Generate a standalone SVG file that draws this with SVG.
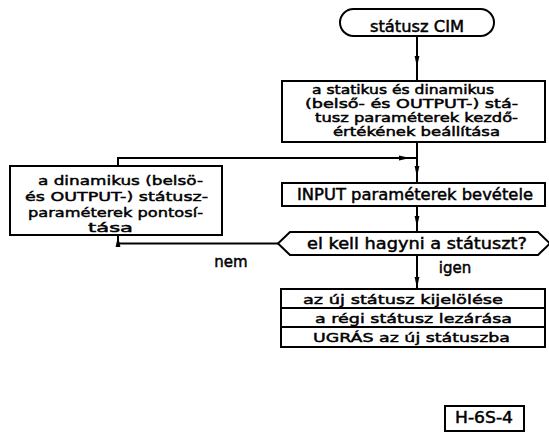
<svg xmlns="http://www.w3.org/2000/svg" width="549" height="435" viewBox="0 0 549 435">
<defs>
<marker id="ah" markerWidth="12" markerHeight="6" refX="11" refY="3" orient="auto" markerUnits="userSpaceOnUse">
<path d="M0,0.6 L11,3 L0,5.4 Z" fill="#000"/>
</marker>
<style>
.b{fill:#fff;stroke:#000;stroke-width:2}
.c{fill:none;stroke:#000;stroke-width:2}
text{font-family:"DejaVu Sans","Liberation Sans",sans-serif;font-size:15px;fill:#000;stroke:#000;stroke-width:0.45}
.s{font-size:12px}
.t{font-size:13px}
.m{text-anchor:middle}
</style>
</defs>
<rect width="549" height="435" fill="#fff"/>
<g id="connectors">
<path class="c" d="M417,36 V81" />
<path class="c" d="M417,36 V67" marker-end="url(#ah)"/>
<path class="c" d="M417,142 V183"/>
<path class="c" d="M417,150 V177" marker-end="url(#ah)"/>
<path class="c" d="M118,166 V158 H417"/>
<path class="c" d="M118,158 H410" marker-end="url(#ah)"/>
<path class="c" d="M417,206 V232"/>
<path class="c" d="M417,206 V227" marker-end="url(#ah)"/>
<path class="c" d="M278,243.5 H118 V235"/>
<path class="c" d="M118,243 V236" marker-end="url(#ah)"/>
<path class="c" d="M417,255 V289"/>
<path class="c" d="M417,260 V288" marker-end="url(#ah)"/>
<text x="231" y="267" class="m">nem</text>
<text x="455" y="273" class="m">igen</text>
</g>
<g id="start">
<rect class="b" x="340" y="9" width="154" height="27" rx="13.5"/>
<text x="370" y="32" textLength="94" lengthAdjust="spacingAndGlyphs">státusz CIM</text>
</g>
<g id="init">
<rect class="b" x="282" y="81" width="263" height="61"/>
<text class="s" x="312" y="94" textLength="182" lengthAdjust="spacingAndGlyphs">a statikus és dinamikus</text>
<text class="s" x="305" y="108" textLength="213" lengthAdjust="spacingAndGlyphs">(belső- és OUTPUT-) stá-</text>
<text class="s" x="315" y="122" textLength="203" lengthAdjust="spacingAndGlyphs">tusz paraméterek kezdő-</text>
<text class="s" x="333" y="136" textLength="167" lengthAdjust="spacingAndGlyphs">értékének beállítása</text>
</g>
<g id="input">
<rect class="b" x="282" y="183" width="263" height="23"/>
<text x="297" y="200" textLength="236" lengthAdjust="spacingAndGlyphs">INPUT paraméterek bevétele</text>
</g>
<g id="decision">
<path class="b" d="M278,243.5 L290,232 L538,232 L550,243.5 L538,255 L290,255 Z"/>
<text x="307" y="249" textLength="220" lengthAdjust="spacingAndGlyphs">el kell hagyni a státuszt?</text>
</g>
<g id="refine">
<rect class="b" x="10" y="166" width="212" height="69"/>
<text class="t" x="38" y="185" textLength="165" lengthAdjust="spacingAndGlyphs">a dinamikus (belsö-</text>
<text class="t" x="25" y="201" textLength="183" lengthAdjust="spacingAndGlyphs">és OUTPUT-) státusz-</text>
<text class="t" x="28" y="216.5" textLength="175" lengthAdjust="spacingAndGlyphs">paraméterek pontosí-</text>
<text class="t" x="88" y="232" textLength="45" lengthAdjust="spacingAndGlyphs">tása</text>
</g>
<g id="select">
<rect class="b" x="281" y="289" width="264" height="19"/>
<text class="t" x="303" y="303.5" textLength="200" lengthAdjust="spacingAndGlyphs">az új státusz kijelölése</text>
</g>
<g id="close">
<rect class="b" x="281" y="308" width="264" height="19"/>
<text class="t" x="315" y="322.5" textLength="197" lengthAdjust="spacingAndGlyphs">a régi státusz lezárása</text>
</g>
<g id="jump">
<rect class="b" x="281" y="327" width="264" height="20"/>
<text class="t" x="313" y="342" textLength="197" lengthAdjust="spacingAndGlyphs">UGRÁS az új státuszba</text>
</g>
<g id="label">
<rect class="b" x="445" y="406" width="79" height="25"/>
<text x="455" y="423" textLength="58" lengthAdjust="spacingAndGlyphs">H-6S-4</text>
</g>
</svg>
